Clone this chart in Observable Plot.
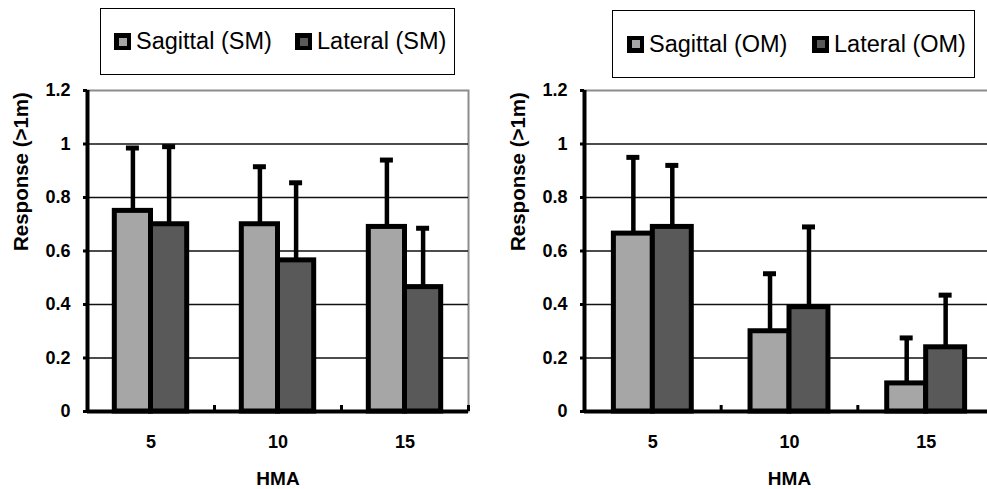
<!DOCTYPE html>
<html><head><meta charset="utf-8">
<script src="https://cdn.jsdelivr.net/npm/d3@7"></script>
<script src="https://cdn.jsdelivr.net/npm/@observablehq/plot@0.6"></script>
<style>
html,body{margin:0;padding:0;background:#fff;}
#wrap{position:relative;width:987px;height:489px;overflow:hidden;font-family:"Liberation Sans",Arial,sans-serif;background:#fff;}
#wrap svg{max-width:none !important;display:block;}
.panel{position:absolute;top:0;height:489px;}
.legend{position:absolute;border:1.5px solid #000;box-sizing:border-box;background:#fff;}
.item{position:absolute;top:0;height:100%;display:flex;align-items:center;font-size:23.5px;white-space:nowrap;color:#000;}
.sw{width:17px;height:17px;background:#000;display:flex;align-items:center;justify-content:center;margin-right:5px;}
.sw span{width:8px;height:8px;display:block;}
</style></head>
<body><div id="wrap"></div>
<script>
const hma = ["5", "10", "15"];
const smSagittal = [0.75, 0.70, 0.69];
const smSagittalSD = [0.235, 0.215, 0.25];
const smLateral = [0.70, 0.565, 0.465];
const smLateralSD = [0.29, 0.29, 0.22];
const omSagittal = [0.665, 0.30, 0.105];
const omSagittalSD = [0.285, 0.215, 0.17];
const omLateral = [0.69, 0.39, 0.24];
const omLateralSD = [0.23, 0.30, 0.195];
const yTicks = [0, 0.2, 0.4, 0.6, 0.8, 1, 1.2];
const gridTicks = [0.2, 0.4, 0.6, 0.8, 1];
const xLabel = "HMA";
const yLabel = "Response (>1m)";
const sagColor = "#a6a6a6";
const latColor = "#595959";

function panel(cfg) {
  const {left, width, marginLeft, marginRight, series, legend} = cfg;
  const height = 489, marginTop = 90, marginBottom = 78;
  const bw = (width - marginLeft - marginRight) / hma.length;
  const barW = 0.285 * bw, capW = 13;
  const fs = 18;
  const marks = [
    Plot.frame({stroke: "#8c8c8c", strokeWidth: 2}),
    Plot.ruleY(gridTicks, {stroke: "#111", strokeWidth: 1.3})
  ];
  series.forEach((s, k) => {
    const rows = hma.map((h, i) => ({hma: h, v: s.values[i], hi: s.values[i] + s.sd[i]}));
    const off = k === 0 ? -barW / 2 : barW / 2;
    const insetLeft = k === 0 ? bw / 2 - barW : bw / 2;
    const insetRight = k === 0 ? bw / 2 : bw / 2 - barW;
    marks.push(
      Plot.ruleX(rows, {x: "hma", y1: "v", y2: "hi", dx: off, stroke: "#000", strokeWidth: 4.5}),
      Plot.tickY(rows, {x: "hma", y: "hi", insetLeft: bw / 2 + off - capW / 2, insetRight: bw / 2 - off - capW / 2, stroke: "#000", strokeWidth: 5}),
      Plot.barY(rows, {x: "hma", y: "v", fill: s.color, stroke: "#000", strokeWidth: 5, insetLeft, insetRight})
    );
  });
  marks.push(
    Plot.ruleX([hma[0]], {x: d => d, dx: -bw / 2, y1: yTicks[0], y2: yTicks[yTicks.length - 1], stroke: "#000", strokeWidth: 4}),
    Plot.ruleY([0], {stroke: "#000", strokeWidth: 4}),
    Plot.ruleX(hma, {x: d => d, dx: bw / 2, y1: 0, y2: 0, insetTop: -6, stroke: "#000", strokeWidth: 3}),
    Plot.axisY({ticks: yTicks, tickFormat: d => String(d), tickSize: 4, tickPadding: 13, strokeWidth: 3, label: null, fontSize: fs, fontWeight: "bold"}),
    Plot.axisX({tickSize: 0, tickPadding: 24, label: null, fontSize: fs, fontWeight: "bold"}),
    Plot.text([yLabel], {text: d => d, frameAnchor: "left", rotate: -90, dx: -66, fontSize: 20.5, fontWeight: "bold"}),
    Plot.text([xLabel], {text: d => d, frameAnchor: "bottom", lineAnchor: "middle", dy: 67, fontSize: 19, fontWeight: "bold"})
  );
  const chart = Plot.plot({
    width, height, marginTop, marginBottom, marginLeft, marginRight,
    style: {fontFamily: '"Liberation Sans", Arial, sans-serif', fontSize: "18px", fontWeight: "bold", color: "#000", background: "transparent"},
    x: {domain: hma, padding: 0, round: false},
    y: {domain: [0, 1.2]},
    marks
  });
  const div = document.createElement("div");
  div.className = "panel";
  div.style.left = left + "px";
  div.style.width = width + "px";
  div.appendChild(chart);
  const lg = document.createElement("div");
  lg.className = "legend";
  lg.style.left = (legend.left - left) + "px";
  lg.style.top = legend.top + "px";
  lg.style.width = legend.width + "px";
  lg.style.height = legend.height + "px";
  series.forEach((s, k) => {
    const it = document.createElement("div");
    it.className = "item";
    it.style.left = legend.offsets[k] + "px";
    const sw = document.createElement("div");
    sw.className = "sw";
    const inner = document.createElement("span");
    inner.style.background = s.color;
    sw.appendChild(inner);
    it.appendChild(sw);
    it.appendChild(document.createTextNode(s.label));
    lg.appendChild(it);
  });
  div.appendChild(lg);
  document.getElementById("wrap").appendChild(div);
}

panel({
  left: 0, width: 493, marginLeft: 87, marginRight: 25,
  series: [
    {label: "Sagittal (SM)", values: smSagittal, sd: smSagittalSD, color: sagColor},
    {label: "Lateral (SM)", values: smLateral, sd: smLateralSD, color: latColor}
  ],
  legend: {left: 100, top: 8, width: 355, height: 67, offsets: [13, 194]}
});
panel({
  left: 493, width: 510, marginLeft: 91, marginRight: 9,
  series: [
    {label: "Sagittal (OM)", values: omSagittal, sd: omSagittalSD, color: sagColor},
    {label: "Lateral (OM)", values: omLateral, sd: omLateralSD, color: latColor}
  ],
  legend: {left: 612, top: 10, width: 363, height: 68, offsets: [14, 199]}
});
</script>
</body></html>
